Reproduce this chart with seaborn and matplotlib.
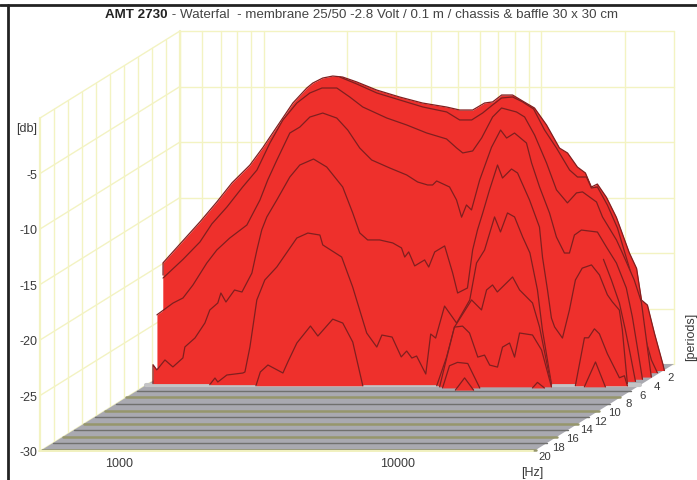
import numpy as np
import matplotlib
matplotlib.use("Agg")
import matplotlib.pyplot as plt
from matplotlib.lines import Line2D
import seaborn as sns

# waterfall slices: frequency [Hz], level [dB], at a period
hz_s0 = [474, 474, 564, 644, 741, 839, 973, 1085, 1228, 1390, 1560, 1640, 1780, 1935, 2100, 2360, 2785, 3370, 4070, 4970, 5540, 6170, 6810, 7280, 7840, 8590, 9330, 10300, 11380, 12670, 13540, 14700, 15700, 16500, 17340, 18700, 20300, 22600, 24000, 25000, 26250, 27800, 29900, 30200]
db_s0 = [-21.4, -20.3, -18.2, -16.6, -14.8, -13.1, -11.5, -9.9, -7.9, -5.9, -4.55, -4.1, -3.65, -3.47, -3.56, -4.0, -4.73, -5.36, -5.9, -6.26, -6.53, -6.53, -5.9, -5.8, -5.18, -5.18, -5.72, -6.35, -7.88, -9.96, -10.4, -11.67, -12.2, -13.47, -13.2, -14.4, -16.2, -19.4, -20.8, -23.65, -24.1, -26.6, -29.5, -30]

hz_s1 = [2110, 2430, 2870, 3470, 4200, 5120, 5700, 6300, 6900, 7490, 8070, 8840, 9600, 10520, 11520, 12720, 14180, 15140, 16310, 16990, 17860, 19400, 21080, 23280, 24870, 26360, 27940, 29350]
db_s1 = [-3.36, -3.99, -4.8, -5.43, -6.06, -6.51, -7.23, -7.23, -6.6, -5.88, -5.25, -5.16, -5.6, -6.24, -8.13, -9.76, -11.74, -12.37, -12.37, -13.36, -13.27, -14.9, -16.96, -20.57, -23.45, -26.6, -28.86, -30]

hz_s2 = [517, 610, 702, 775, 878, 1000, 1126, 1254, 1396, 1568, 1745, 1930, 2183, 2430, 2707, 3300, 3895, 4595, 5420, 5890, 6200, 6730, 7250, 7940, 8550, 9680, 10350, 11240, 12410, 13480, 14760, 15910, 16730, 18780, 19740, 22160, 23280, 25670, 27240, 28400, 29580]
db_s2 = [-21.08, -19.4, -17.83, -16.2, -14.68, -12.88, -11.35, -8.91, -6.84, -5.31, -4.41, -3.96, -3.96, -4.77, -5.67, -6.66, -7.29, -8.01, -8.55, -9.36, -9.81, -9.63, -8.46, -6.57, -5.76, -6.12, -6.57, -8.19, -10.71, -13.14, -14.31, -13.41, -13.32, -14.23, -15.58, -17.65, -18.82, -21.25, -23.24, -26.66, -30]

hz_s3 = [506, 578, 628, 682, 765, 831, 925, 1066, 1188, 1267, 1367, 1522, 1654, 1797, 2000, 2246, 2460, 2717, 3000, 3485, 4010, 4390, 4770, 4970, 5140, 5720, 6060, 6320, 6580, 6860, 7340, 8100, 8730, 9180, 9800, 10820, 11290, 12060, 13100, 13870, 14820, 15450, 16100, 17060, 19480, 20990, 22800, 24750, 26030, 27110, 28300]
db_s3 = [-24.2, -23.14, -22.68, -21.51, -19.53, -18.36, -17.28, -16.11, -13.86, -12.06, -10.26, -7.82, -7.28, -6.38, -6.02, -6.47, -7.55, -9.17, -10.25, -10.97, -11.6, -12.23, -12.5, -12.5, -12.14, -12.68, -13.85, -15.4, -14.3, -14.75, -12.06, -9.1, -7.55, -8.27, -7.82, -8.72, -10.52, -12.68, -15.03, -17.19, -18.63, -18.63, -17.01, -16.56, -16.74, -18.09, -19.53, -21.78, -24.4, -27.1, -30]

hz_s3b = [21080, 22520, 24060, 25280, 26360, 27490]
db_s3b = [-19.0, -20.87, -22.94, -25.37, -27.62, -30]

hz_s4 = [519, 519, 536, 573, 612, 665, 676, 735, 798, 831, 888, 911, 950, 1020, 1085, 1178, 1228, 1278, 1333, 1448, 1613, 1752, 1963, 2190, 2500, 2717, 2880, 3075, 3395, 3785, 4070, 4180, 4320, 4540, 4930, 5100, 5360, 5820, 6220, 6480, 7030, 7340, 7640, 7980, 8440, 9020, 9400, 10130, 10650, 11760, 12770, 13100, 13650, 14100, 14480, 15450, 16370, 17200, 18200, 19650, 20990, 22420, 23370, 24750, 25380, 26460]
db_s4 = [-30, -28.3, -28.77, -27.87, -28.5, -27.69, -26.7, -25.89, -24.54, -23.37, -22.74, -21.84, -22.65, -21.57, -21.75, -20.04, -17.96, -16.16, -14.99, -13.46, -11.39, -10.31, -9.77, -10.49, -12.29, -14.63, -16.43, -17.06, -17.06, -17.33, -17.78, -18.6, -18.14, -19.4, -18.86, -19.5, -18.14, -17.6, -20.04, -21.84, -21.39, -17.96, -16.16, -14.63, -12.56, -10.31, -11.48, -10.67, -11.03, -13.46, -15.9, -18.64, -21.57, -24.1, -24.9, -25.9, -23.37, -20.67, -19.6, -19.31, -20.21, -22.0, -22.64, -23.37, -25.17, -30]

hz_s5 = [843, 880, 901, 971, 1109, 1128, 1176, 1245, 1330, 1469, 1734, 1900, 2100, 2150, 2515, 2755, 3095, 3365, 3510, 3820, 4120, 4310, 4500, 4680, 5050, 5260, 5480, 5900, 6520, 7270, 7690, 8220, 8930, 9380, 9940, 10540, 11270, 11970, 12740, 13280, 14320]
db_s5 = [-30, -29.4, -29.76, -29.13, -28.95, -28.86, -26.6, -22.37, -20.57, -19.4, -16.79, -16.34, -16.52, -17.41, -18.5, -21.2, -25.35, -26.61, -25.53, -25.71, -27.5, -26.97, -27.6, -27.42, -29.04, -25.44, -25.8, -22.92, -24.45, -22.37, -19.04, -17.87, -14.89, -16.24, -14.53, -14.89, -16.69, -18.13, -21.46, -25.08, -30]

hz_s6 = [1254, 1300, 1385, 1568, 1633, 1760, 1970, 2095, 2370, 2575, 2797, 3040, 5610, 6090, 6504, 7490, 8130, 8480, 8910, 9270, 10520, 11150, 12410, 13150, 14510, 17700, 19082, 19740, 20730, 21600, 23080, 25500, 26570, 27240]
db_s6 = [-30, -28.76, -28.13, -28.85, -27.86, -26.15, -24.62, -25.52, -24.0, -24.35, -26.06, -30, -30, -27.41, -24.7, -22.27, -23.17, -21.37, -20.92, -21.55, -20.2, -21.37, -22.54, -24.7, -30, -30, -25.68, -25.68, -24.87, -25.32, -27.12, -29.28, -29.1, -30]

hz_s7 = [5830, 6190, 6590, 7050, 7470, 8000, 8460, 8830, 9420, 9820, 10410, 10850, 11310, 12590, 13570, 14730, 19350, 21220, 23030]
db_s7 = [-30, -27.33, -24.62, -24.53, -25.15, -27.32, -27.14, -28.04, -28.22, -26.42, -26.05, -27.32, -25.15, -25.33, -26.68, -30, -30, -27.76, -30]

hz_s8 = [6060, 6420, 6860, 7470, 8250, 12770, 13310, 14100]
db_s8 = [-30, -28.0, -27.7, -27.8, -30, -30, -29.5, -30]

hz_s9 = [6940, 7490, 8070]
db_s9 = [-30, -28.9, -30]

slice_periods = [1.5, 2, 3, 3.5, 4, 4.5, 4.75, 5, 5.25, 5.5, 6]

wall_hz = [500, 600, 700, 800, 900, 1000, 2000, 3000, 4000, 5000, 6000, 7000, 8000, 9000, 10000, 20000, 30000]
wall_db = [0, -5, -10, -15, -20, -25, -30]
db_labels = [-5, -10, -15, -20, -25, -30]
hz_labels = [1000, 10000]
period_labels = [2, 4, 6, 8, 10, 12, 14, 16, 18, 20]

RED = "#ee302c"
LINE = "#801f1f"
GRID = "#f3f3c2"
TXT = "#3a3a3a"


def project(hz, db, period):
    # oblique view: deeper periods move left and down
    hz = np.asarray(hz, dtype=float) * 10 ** (-period * 7 / 278)
    db = np.asarray(db, dtype=float) - period * 4.35 / 11.1
    return hz, db


sns.set_theme(style="white")
plt.rcParams["font.family"] = ["Liberation Sans", "DejaVu Sans"]

fig = plt.figure(figsize=(6.97, 4.8), dpi=100)
ax = fig.add_axes([0, 0, 1, 1])
ax.set_xscale("log")

# back wall and left wall
for h in wall_hz:
    x, y = project([h, h], [0, -30], 0)
    ax.plot(x, y, color=GRID, lw=1.6 if h == 500 else 1.0, zorder=1)
for d in wall_db:
    x, y = project([500, 30000], [d, d], 0)
    ax.plot(x, y, color=GRID, lw=1.0, zorder=1)
    x0, y0 = project(500, d, 0)
    x1, y1 = project(500, d, 20)
    ax.plot([x0, x1], [y0, y1], color=GRID, lw=1.0, zorder=1)
for p in range(0, 22, 2):
    x, y = project([500, 500], [0, -30], p)
    ax.plot(x, y, color=GRID, lw=1.6 if p == 20 else 1.0, zorder=1)

# floor: grey with alternating olive and dark stripes
corners = [project(500, -30, 0), project(30000, -30, 0), project(30000, -30, 19.8), project(500, -30, 19.8)]
ax.fill([c[0] for c in corners], [c[1] for c in corners], color="#a9a9b0", lw=0, zorder=2)
for n, p in enumerate(np.arange(6.2, 19.8, 1.5)):
    x, y = project([500, 30000], [-30, -30], p)
    if n % 2 == 0:
        ax.plot(x, y, color="#70706e", lw=1.0, zorder=3)
    else:
        ax.plot(x, y, color="#96966c", lw=1.8, zorder=3)
x, y = project([500, 30000], [-30, -30], 4.9)
ax.plot(x, y, color="#c4c4c6", lw=3, zorder=3)
x, y = project([500, 30000], [-30, -30], 20.1)
ax.plot(x, y, color=GRID, lw=1.4, zorder=3)

# slices from back to front, each one hides what is behind it
all_hz = [hz_s0, hz_s1, hz_s2, hz_s3, hz_s3b, hz_s4, hz_s5, hz_s6, hz_s7, hz_s8, hz_s9]
all_db = [db_s0, db_s1, db_s2, db_s3, db_s3b, db_s4, db_s5, db_s6, db_s7, db_s8, db_s9]
for i in range(len(all_hz)):
    p = slice_periods[i]
    x, y = project(all_hz[i], all_db[i], p)
    _, base = project(all_hz[i], [-30] * len(all_hz[i]), p)
    z = 4 + i
    ax.fill_between(x, y, base, color=RED, lw=0, zorder=z)
    # no line where the slice just lies on the floor
    start = 0
    for j in range(len(x)):
        if j == len(x) - 1 or (all_db[i][j] == -30 and all_db[i][j + 1] == -30):
            sns.lineplot(x=x[start:j + 1], y=y[start:j + 1], sort=False, estimator=None, color=LINE, lw=0.9, ax=ax, zorder=z, legend=False)
            start = j + 1

ax.set_xlim(112.5, 36300)
ax.set_ylim(-40.45, 2.793)
ax.axis("off")

# labels
for d in db_labels:
    x, y = project(500, d, 20)
    ax.annotate(str(d), (x, y), xytext=(-2, -1.5), textcoords="offset points", ha="right", va="center", fontsize=9, color=TXT)
x, y = project(500, 0, 20)
ax.annotate("[db]", (x, y), xytext=(-10, -8), textcoords="offset points", ha="center", va="center", fontsize=9, color=TXT)
for h in hz_labels:
    x, y = project(h, -30, 20)
    ax.annotate(str(h), (x, y), xytext=(-3, -9), textcoords="offset points", ha="center", va="center", fontsize=9, color=TXT)
for p in period_labels:
    x, y = project(30000, -30, p)
    ax.annotate(str(p), (x, y), xytext=(7.5, -4), textcoords="offset points", ha="center", va="center", fontsize=8.2, color=TXT)
x, y = project(30000, -30, 20)
ax.annotate("[Hz]", (x, y), xytext=(-1, -16), textcoords="offset points", ha="center", va="center", fontsize=9, color=TXT)
fig.text(691 / 697, 1 - 337 / 480, "[periods]", rotation=90, ha="center", va="center", fontsize=9, color=TXT)

# title, bold part first
t1 = fig.text(105 / 697, 1 - 15 / 480, "AMT 2730", fontweight="bold", ha="left", va="center", fontsize=9.6, color="#222222")
ax.annotate(" - Waterfal  - membrane 25/50 -2.8 Volt / 0.1 m / chassis & baffle 30 x 30 cm", xy=(1, 0.5), xycoords=t1,
            ha="left", va="center", fontsize=9.6, color="#444444")

# page frame
fig.add_artist(Line2D([0, 1], [1 - 4.5 / 480, 1 - 4.5 / 480], color="#222222", lw=2))
fig.add_artist(Line2D([8 / 697, 8 / 697], [0, 1 - 4.5 / 480], color="#222222", lw=2))

fig.savefig("out.png", dpi=100)
